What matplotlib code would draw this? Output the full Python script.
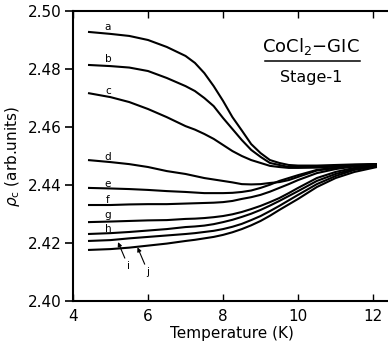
import matplotlib
matplotlib.use("Agg")
import matplotlib.pyplot as plt
from matplotlib.lines import Line2D

# Temperature grid (K) at which each rho_c curve is tabulated
temperature = [4.4, 5.0, 5.5, 6.0, 6.5, 7.0, 7.25, 7.5, 7.75, 8.0, 8.25, 8.5, 8.75,
               9.0, 9.25, 9.5, 9.75, 10.0, 10.5, 11.0, 11.5, 12.1]

curve_a = [2.4928, 2.4921, 2.4914, 2.4900, 2.4876, 2.4845, 2.4821, 2.4786, 2.4741, 2.4690, 2.4634,
           2.4588, 2.4541, 2.4510, 2.4486, 2.4476, 2.4469, 2.4467, 2.4467, 2.4469, 2.4471, 2.4472]
curve_b = [2.4814, 2.4810, 2.4805, 2.4793, 2.4769, 2.4741, 2.4724, 2.4700, 2.4672, 2.4631, 2.4593,
           2.4555, 2.4521, 2.4497, 2.4476, 2.4469, 2.4462, 2.4462, 2.4462, 2.4466, 2.4469, 2.4472]
curve_c = [2.4717, 2.4703, 2.4686, 2.4662, 2.4634, 2.4603, 2.4591, 2.4576, 2.4559, 2.4538, 2.4517,
           2.4500, 2.4486, 2.4476, 2.4466, 2.4462, 2.4459, 2.4459, 2.4460, 2.4464, 2.4467, 2.4471]
curve_d = [2.4486, 2.4479, 2.4472, 2.4462, 2.4448, 2.4438, 2.4431, 2.4424, 2.4419, 2.4414, 2.4409,
           2.4403, 2.4402, 2.4403, 2.4407, 2.4410, 2.4417, 2.4428, 2.4450, 2.4459, 2.4466, 2.4472]
curve_e = [2.4390, 2.4388, 2.4386, 2.4383, 2.4379, 2.4376, 2.4374, 2.4372, 2.4372, 2.4372, 2.4373,
           2.4376, 2.4381, 2.4390, 2.4401, 2.4414, 2.4424, 2.4434, 2.4452, 2.4460, 2.4466, 2.4471]
curve_f = [2.4331, 2.4331, 2.4333, 2.4334, 2.4334, 2.4336, 2.4337, 2.4338, 2.4339, 2.4341, 2.4345,
           2.4352, 2.4358, 2.4366, 2.4377, 2.4390, 2.4403, 2.4417, 2.4441, 2.4455, 2.4464, 2.4469]
curve_g = [2.4272, 2.4274, 2.4276, 2.4278, 2.4279, 2.4283, 2.4284, 2.4286, 2.4289, 2.4293, 2.4299,
           2.4307, 2.4317, 2.4328, 2.4341, 2.4355, 2.4372, 2.4390, 2.4424, 2.4445, 2.4459, 2.4467]
curve_h = [2.4231, 2.4234, 2.4238, 2.4243, 2.4248, 2.4255, 2.4257, 2.4260, 2.4265, 2.4272, 2.4280,
           2.4290, 2.4301, 2.4314, 2.4329, 2.4345, 2.4362, 2.4379, 2.4414, 2.4438, 2.4455, 2.4466]
curve_i = [2.4207, 2.4210, 2.4216, 2.4221, 2.4226, 2.4231, 2.4234, 2.4238, 2.4242, 2.4248, 2.4256,
           2.4266, 2.4279, 2.4293, 2.4310, 2.4328, 2.4347, 2.4366, 2.4403, 2.4431, 2.4452, 2.4464]
curve_j = [2.4176, 2.4179, 2.4184, 2.4191, 2.4198, 2.4207, 2.4211, 2.4216, 2.4221, 2.4228, 2.4237,
           2.4248, 2.4261, 2.4276, 2.4294, 2.4314, 2.4333, 2.4352, 2.4393, 2.4424, 2.4445, 2.4462]

curves = [curve_a, curve_b, curve_c, curve_d, curve_e, curve_f, curve_g, curve_h, curve_i, curve_j]
curve_names = ["a", "b", "c", "d", "e", "f", "g", "h", "i", "j"]

# where the letters a-h sit (just above the start of each curve)
letter_T = 4.93
letter_rho = [2.4945, 2.4834, 2.4724, 2.4497, 2.4403, 2.4348, 2.4297, 2.4250]

x_ticks = [4, 6, 8, 10, 12]
y_ticks = [2.40, 2.42, 2.44, 2.46, 2.48, 2.50]

plt.rcParams["font.family"] = ["DejaVu Sans"]

fig = plt.figure(figsize=(3.88, 3.46), dpi=100)
ax = fig.add_axes([73 / 388, 45 / 346, 317 / 388, 290 / 346])

for rho in curves:
    ax.plot(temperature, rho, color="black", lw=1.5, solid_capstyle="butt",
            solid_joinstyle="round")

for name, y in zip(curve_names[:8], letter_rho):
    ax.text(letter_T, y, name, fontsize=7.5, ha="center", va="center")

arrow = dict(arrowstyle="-|>", lw=0.8, color="black", mutation_scale=6,
             shrinkA=0, shrinkB=0)
ax.annotate("i", xy=(5.2, 2.4203), xytext=(5.47, 2.4121), fontsize=7.5,
            ha="center", va="center", arrowprops=arrow)
ax.annotate("j", xy=(5.72, 2.4185), xytext=(6.0, 2.4100), fontsize=7.5,
            ha="center", va="center", arrowprops=arrow)

ax.set_xlim(4, 12.45)
ax.set_ylim(2.40, 2.50)
ax.set_xticks(x_ticks)
ax.set_yticks(y_ticks)
ax.set_xticklabels([str(t) for t in x_ticks])
ax.set_yticklabels([f"{t:.2f}" for t in y_ticks])

for side in ax.spines.values():
    side.set_linewidth(1.5)

ax.tick_params(axis="y", which="major", direction="out", length=6, width=1.2,
               labelsize=11, pad=2)
ax.tick_params(axis="x", which="major", direction="in", length=5, width=1.0,
               labelsize=11, pad=6, top=True)
ax.tick_params(axis="y", right=True)

ax.set_xlabel("Temperature (K)", fontsize=11, labelpad=1)
ax.set_ylabel(r"$\rho_{\rm c}$ (arb.units)", fontsize=11, labelpad=4)

ax.text(0.751, 0.877, "CoCl$_2$\u2212GIC", transform=ax.transAxes,
        fontsize=13, ha="center", va="center")
ax.add_line(Line2D([0.606, 0.905], [0.828, 0.828], transform=ax.transAxes,
                   color="black", lw=1.1))
ax.text(0.751, 0.769, "Stage-1", transform=ax.transAxes,
        fontsize=11.5, ha="center", va="center")

fig.savefig("out.png", dpi=100)
